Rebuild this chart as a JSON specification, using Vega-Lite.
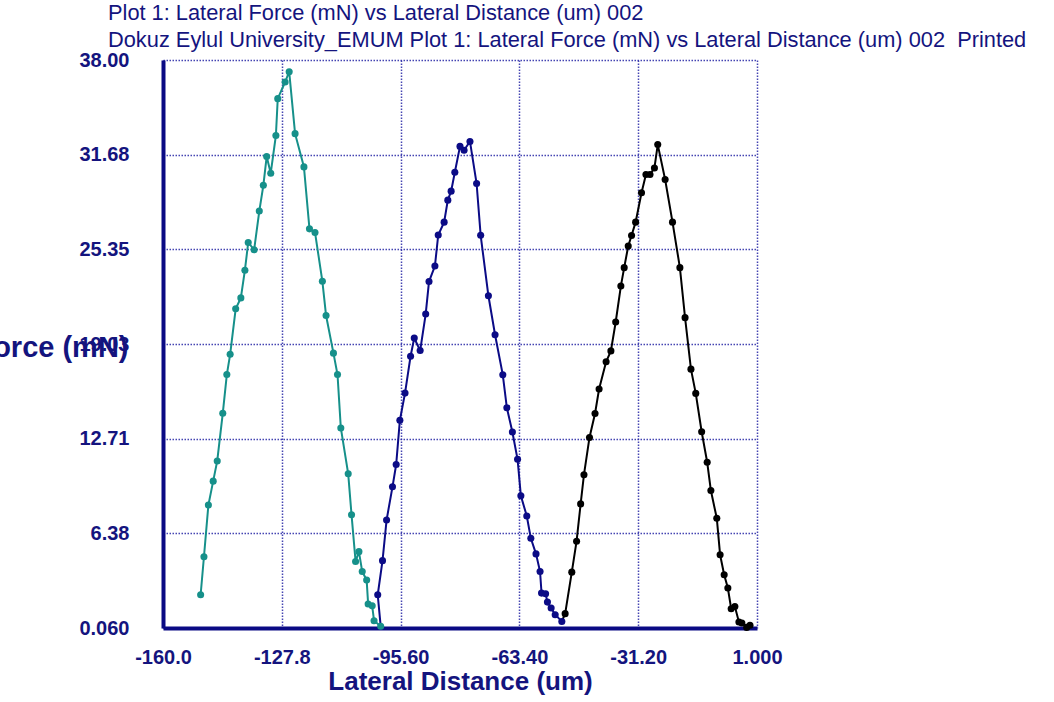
{
  "$schema": "https://vega.github.io/schema/vega-lite/v6.json",
  "width": 594,
  "height": 568,
  "autosize": {"type": "none"},
  "padding": {"left": 163, "top": 60, "right": 297, "bottom": 74},
  "background": "white",
  "config": {"view": {"stroke": null}, "font": "Liberation Sans"},
  "title": {
    "text": ["Plot 1: Lateral Force (mN) vs Lateral Distance (um) 002", "Dokuz Eylul University_EMUM Plot 1: Lateral Force (mN) vs Lateral Distance (um) 002\u00a0 Printed"],
    "anchor": "start",
    "frame": "group",
    "dx": -55,
    "offset": -2,
    "fontSize": 21.8,
    "fontWeight": "normal",
    "font": "Liberation Sans",
    "color": "#14147e",
    "lineHeight": 27
  },
  "data": {"values": [
    {"i":1,"s":"c1","c":0,"x":-149.8,"y":2.28},
    {"i":2,"s":"c1","c":0,"x":-148.9,"y":4.82},
    {"i":3,"s":"c1","c":0,"x":-147.7,"y":8.27},
    {"i":4,"s":"c1","c":0,"x":-146.4,"y":9.87},
    {"i":5,"s":"c1","c":0,"x":-145.3,"y":11.22},
    {"i":6,"s":"c1","c":0,"x":-143.8,"y":14.40},
    {"i":7,"s":"c1","c":0,"x":-142.7,"y":16.99},
    {"i":8,"s":"c1","c":0,"x":-141.8,"y":18.34},
    {"i":9,"s":"c1","c":0,"x":-140.3,"y":21.38},
    {"i":10,"s":"c1","c":0,"x":-138.9,"y":22.11},
    {"i":11,"s":"c1","c":0,"x":-137.8,"y":23.96},
    {"i":12,"s":"c1","c":0,"x":-136.9,"y":25.81},
    {"i":13,"s":"c1","c":0,"x":-135.3,"y":25.32},
    {"i":14,"s":"c1","c":0,"x":-133.9,"y":27.91},
    {"i":15,"s":"c1","c":0,"x":-132.8,"y":29.63},
    {"i":16,"s":"c1","c":0,"x":-131.9,"y":31.55},
    {"i":17,"s":"c1","c":0,"x":-130.8,"y":30.44},
    {"i":18,"s":"c1","c":0,"x":-129.4,"y":32.96},
    {"i":19,"s":"c1","c":0,"x":-128.9,"y":35.42},
    {"i":20,"s":"c1","c":0,"x":-126.9,"y":36.53},
    {"i":21,"s":"c1","c":0,"x":-125.8,"y":37.22},
    {"i":22,"s":"c1","c":0,"x":-124.2,"y":33.08},
    {"i":23,"s":"c1","c":0,"x":-121.8,"y":30.86},
    {"i":24,"s":"c1","c":0,"x":-120.3,"y":26.72},
    {"i":25,"s":"c1","c":0,"x":-118.8,"y":26.48},
    {"i":26,"s":"c1","c":0,"x":-116.8,"y":23.22},
    {"i":27,"s":"c1","c":0,"x":-115.8,"y":20.93},
    {"i":28,"s":"c1","c":0,"x":-113.8,"y":18.42},
    {"i":29,"s":"c1","c":0,"x":-112.7,"y":16.99},
    {"i":30,"s":"c1","c":0,"x":-111.8,"y":13.42},
    {"i":31,"s":"c1","c":0,"x":-109.8,"y":10.36},
    {"i":32,"s":"c1","c":0,"x":-108.9,"y":7.63},
    {"i":33,"s":"c1","c":0,"x":-107.8,"y":4.50},
    {"i":34,"s":"c1","c":0,"x":-106.9,"y":5.16},
    {"i":35,"s":"c1","c":0,"x":-106.0,"y":3.83},
    {"i":36,"s":"c1","c":0,"x":-104.8,"y":3.26},
    {"i":37,"s":"c1","c":0,"x":-104.4,"y":1.66},
    {"i":38,"s":"c1","c":0,"x":-103.3,"y":1.54},
    {"i":39,"s":"c1","c":0,"x":-102.8,"y":0.55},
    {"i":40,"s":"c1","c":0,"x":-101.0,"y":0.18},
    {"i":41,"s":"c2","c":1,"x":-101.0,"y":0.18},
    {"i":42,"s":"c2","c":0,"x":-101.8,"y":2.28},
    {"i":43,"s":"c2","c":0,"x":-100.5,"y":4.56},
    {"i":44,"s":"c2","c":0,"x":-99.4,"y":7.27},
    {"i":45,"s":"c2","c":0,"x":-97.8,"y":9.49},
    {"i":46,"s":"c2","c":0,"x":-96.8,"y":10.98},
    {"i":47,"s":"c2","c":0,"x":-95.8,"y":13.93},
    {"i":48,"s":"c2","c":0,"x":-94.4,"y":15.75},
    {"i":49,"s":"c2","c":0,"x":-92.9,"y":18.21},
    {"i":50,"s":"c2","c":0,"x":-91.9,"y":19.43},
    {"i":51,"s":"c2","c":0,"x":-90.3,"y":18.59},
    {"i":52,"s":"c2","c":0,"x":-88.8,"y":21.03},
    {"i":53,"s":"c2","c":0,"x":-87.9,"y":23.20},
    {"i":54,"s":"c2","c":0,"x":-86.3,"y":24.24},
    {"i":55,"s":"c2","c":0,"x":-85.4,"y":26.31},
    {"i":56,"s":"c2","c":0,"x":-83.8,"y":27.17},
    {"i":57,"s":"c2","c":0,"x":-82.8,"y":28.64},
    {"i":58,"s":"c2","c":0,"x":-81.9,"y":29.24},
    {"i":59,"s":"c2","c":0,"x":-80.9,"y":30.50},
    {"i":60,"s":"c2","c":0,"x":-79.5,"y":32.23},
    {"i":61,"s":"c2","c":0,"x":-78.4,"y":31.97},
    {"i":62,"s":"c2","c":0,"x":-76.8,"y":32.56},
    {"i":63,"s":"c2","c":0,"x":-75.0,"y":29.75},
    {"i":64,"s":"c2","c":0,"x":-73.9,"y":26.29},
    {"i":65,"s":"c2","c":0,"x":-71.8,"y":22.25},
    {"i":66,"s":"c2","c":0,"x":-70.0,"y":19.65},
    {"i":67,"s":"c2","c":0,"x":-67.9,"y":16.97},
    {"i":68,"s":"c2","c":0,"x":-66.8,"y":14.77},
    {"i":69,"s":"c2","c":0,"x":-65.3,"y":13.15},
    {"i":70,"s":"c2","c":0,"x":-63.9,"y":11.33},
    {"i":71,"s":"c2","c":0,"x":-63.0,"y":8.89},
    {"i":72,"s":"c2","c":0,"x":-61.4,"y":7.54},
    {"i":73,"s":"c2","c":0,"x":-60.3,"y":6.05},
    {"i":74,"s":"c2","c":0,"x":-58.9,"y":5.01},
    {"i":75,"s":"c2","c":0,"x":-57.8,"y":3.83},
    {"i":76,"s":"c2","c":0,"x":-57.4,"y":2.39},
    {"i":77,"s":"c2","c":0,"x":-56.3,"y":2.35},
    {"i":78,"s":"c2","c":0,"x":-55.8,"y":1.79},
    {"i":79,"s":"c2","c":0,"x":-54.8,"y":1.39},
    {"i":80,"s":"c2","c":0,"x":-53.7,"y":0.95},
    {"i":81,"s":"c2","c":0,"x":-51.9,"y":0.50},
    {"i":82,"s":"c3","c":1,"x":-51.9,"y":0.50},
    {"i":83,"s":"c3","c":0,"x":-51.0,"y":1.02},
    {"i":84,"s":"c3","c":0,"x":-49.2,"y":3.79},
    {"i":85,"s":"c3","c":0,"x":-47.9,"y":5.86},
    {"i":86,"s":"c3","c":0,"x":-46.8,"y":8.35},
    {"i":87,"s":"c3","c":0,"x":-45.9,"y":10.30},
    {"i":88,"s":"c3","c":0,"x":-44.4,"y":12.79},
    {"i":89,"s":"c3","c":0,"x":-42.9,"y":14.39},
    {"i":90,"s":"c3","c":0,"x":-41.8,"y":16.02},
    {"i":91,"s":"c3","c":0,"x":-39.9,"y":17.84},
    {"i":92,"s":"c3","c":0,"x":-38.6,"y":18.57},
    {"i":93,"s":"c3","c":0,"x":-37.3,"y":20.50},
    {"i":94,"s":"c3","c":0,"x":-35.9,"y":22.90},
    {"i":95,"s":"c3","c":0,"x":-35.0,"y":24.13},
    {"i":96,"s":"c3","c":0,"x":-33.9,"y":25.57},
    {"i":97,"s":"c3","c":0,"x":-33.0,"y":26.28},
    {"i":98,"s":"c3","c":0,"x":-31.9,"y":27.17},
    {"i":99,"s":"c3","c":0,"x":-30.3,"y":29.13},
    {"i":100,"s":"c3","c":0,"x":-29.1,"y":30.35},
    {"i":101,"s":"c3","c":0,"x":-28.0,"y":30.35},
    {"i":102,"s":"c3","c":0,"x":-26.8,"y":30.79},
    {"i":103,"s":"c3","c":0,"x":-25.9,"y":32.35},
    {"i":104,"s":"c3","c":0,"x":-23.9,"y":30.02},
    {"i":105,"s":"c3","c":0,"x":-21.9,"y":27.17},
    {"i":106,"s":"c3","c":0,"x":-19.9,"y":24.13},
    {"i":107,"s":"c3","c":0,"x":-18.5,"y":20.79},
    {"i":108,"s":"c3","c":0,"x":-16.9,"y":17.35},
    {"i":109,"s":"c3","c":0,"x":-15.6,"y":15.73},
    {"i":110,"s":"c3","c":0,"x":-14.0,"y":13.17},
    {"i":111,"s":"c3","c":0,"x":-12.5,"y":11.13},
    {"i":112,"s":"c3","c":0,"x":-11.5,"y":9.24},
    {"i":113,"s":"c3","c":0,"x":-9.9,"y":7.39},
    {"i":114,"s":"c3","c":0,"x":-9.0,"y":4.95},
    {"i":115,"s":"c3","c":0,"x":-7.9,"y":3.62},
    {"i":116,"s":"c3","c":0,"x":-6.9,"y":2.73},
    {"i":117,"s":"c3","c":0,"x":-6.0,"y":1.35},
    {"i":118,"s":"c3","c":0,"x":-5.0,"y":1.50},
    {"i":119,"s":"c3","c":0,"x":-3.9,"y":0.46},
    {"i":120,"s":"c3","c":0,"x":-3.1,"y":0.39},
    {"i":121,"s":"c3","c":0,"x":-1.8,"y":0.10},
    {"i":122,"s":"c3","c":0,"x":-0.9,"y":0.24}
  ]},
  "encoding": {
    "x": {
      "field": "x", "type": "quantitative",
      "scale": {"domain": [-160, 1], "nice": false, "zero": false},
      "axis": {
        "title": "Lateral Distance (um)",
        "values": [-160, -127.8, -95.6, -63.4, -31.2, 1],
        "labelExpr": "replace(format(datum.value, '.4r'), '\u2212', '-')",
        "grid": true, "gridColor": "#2424a4", "gridDash": [1.5, 1.5], "gridWidth": 1.5, "gridOpacity": 0.85,
        "domainColor": "#0a0a84", "domainWidth": 4,
        "ticks": false, "tickSize": 0,
        "labelFontSize": 20, "labelFontWeight": "bold", "labelColor": "#14147e", "labelFont": "Liberation Sans",
        "labelPadding": 19, "labelFlush": false,
        "titleFontSize": 26, "titleFontWeight": "bold", "titleColor": "#14147e", "titleFont": "Liberation Sans",
        "titlePadding": 1
      }
    },
    "y": {
      "field": "y", "type": "quantitative",
      "scale": {"domain": [0.06, 38], "nice": false, "zero": false},
      "axis": {
        "title": "Lateral Force (mN)",
        "values": [0.06, 6.383333, 12.706667, 19.03, 25.353333, 31.676667, 38],
        "labelExpr": "datum.value < 0.1 ? '0.060' : format(datum.value, '.2f')",
        "grid": true, "gridColor": "#2424a4", "gridDash": [1.5, 1.5], "gridWidth": 1.5, "gridOpacity": 0.85,
        "domainColor": "#0a0a84", "domainWidth": 4,
        "ticks": false, "tickSize": 0,
        "labelFontSize": 20, "labelFontWeight": "bold", "labelColor": "#14147e", "labelFont": "Liberation Sans",
        "labelPadding": 34, "labelFlush": false,
        "titleFontSize": 29, "titleFontWeight": "bold", "titleColor": "#14147e", "titleFont": "Liberation Sans",
        "titleAngle": 0, "titleAlign": "right", "titleBaseline": "middle", "titleX": -35, "titleY": 287
      }
    },
    "color": {
      "field": "s", "type": "nominal",
      "scale": {"domain": ["c1", "c2", "c3"], "range": ["#16908a", "#0b0b86", "#000000"]},
      "legend": null
    }
  },
  "layer": [
    {"mark": {"type": "line", "strokeWidth": 2}, "encoding": {"order": {"field": "i", "type": "quantitative"}}},
    {"transform": [{"filter": "datum.c != 1"}], "mark": {"type": "point", "filled": true, "size": 50, "opacity": 1}}
  ]
}
